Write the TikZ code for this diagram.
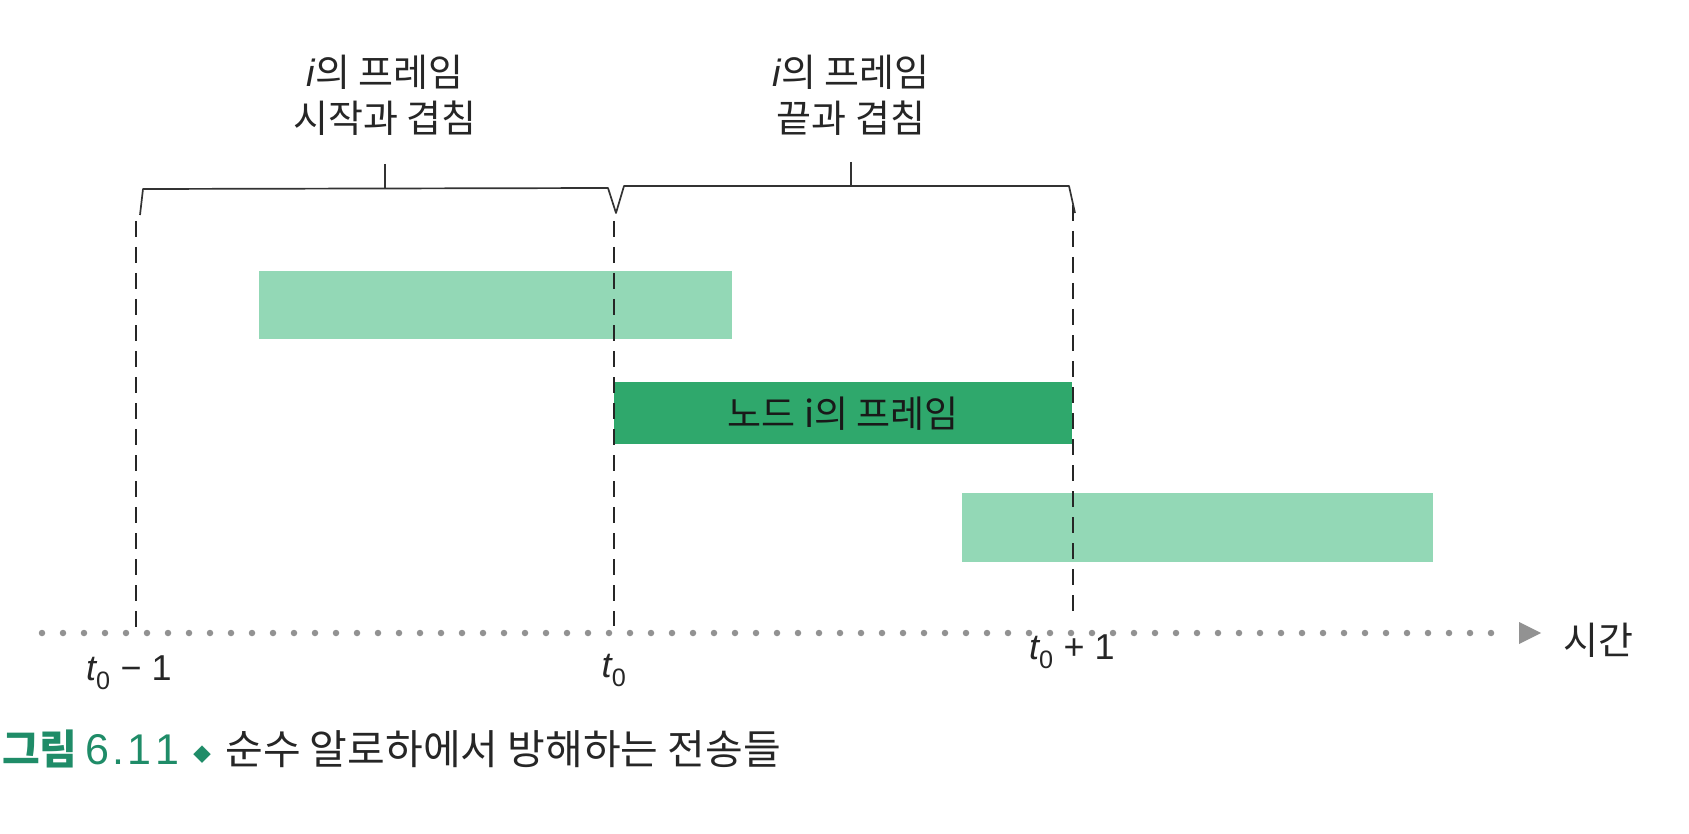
\documentclass[tikz,border=0pt]{standalone}
\usepackage{fontspec}
\setmainfont{Noto Sans CJK KR}
\newfontfamily\lat{Liberation Sans}
\definecolor{mint}{HTML}{93D8B6}
\definecolor{darkgreen}{HTML}{2FA86C}
\definecolor{capgreen}{HTML}{1F8C68}
\definecolor{axisgray}{HTML}{929292}
\begin{document}
\begin{tikzpicture}[x=1pt,y=-1pt,
  lbl/.style={font=\fontsize{38}{46}\selectfont, text=black!85, inner sep=0pt, align=center},
  tlbl/.style={font=\lat\fontsize{36}{40}\selectfont, text=black!85, inner sep=0pt},
  brk/.style={line width=1.7pt, black!80, line join=round},
  vdash/.style={line width=2.4pt, black!85, dash pattern=on 16pt off 10pt},
  barbase/.style={draw=none, inner sep=0pt, anchor=north west},
  lightbar/.style={barbase, fill=mint},
  darkbar/.style={barbase, fill=darkgreen, font=\fontsize{37}{40}\selectfont, text=black!90},
  axisdots/.style={line width=6.5pt, axisgray, line cap=round, dash pattern=on 0pt off 21pt}]
\useasboundingbox (0,0) rectangle (1689,834);

% bars
\node[lightbar, minimum width=473pt, minimum height=68pt] (b1) at (259,271) {};
\node[darkbar, minimum width=458pt, minimum height=62pt] (b2) at (614,382) {노드 i의 프레임};
\node[lightbar, minimum width=471pt, minimum height=69pt] (b3) at (962,493) {};

% dashed time markers
\coordinate (l0) at (136,221); \coordinate (l1) at (136,630);
\coordinate (m0) at (614,221); \coordinate (m1) at (614,626);
\coordinate (r0) at (1073,205); \coordinate (r1) at (1073,614);
\draw[vdash] (l0) -- (l1);
\draw[vdash] (m0) -- (m1);
\draw[vdash] (r0) -- (r1);

% brackets
\coordinate (a0) at (140,215); \coordinate (a1) at (143,189);
\coordinate (a2) at (608,188); \coordinate (n) at (616,213);
\coordinate (a3) at (624,186); \coordinate (a4) at (1069,186);
\coordinate (a5) at (1075,213);
\draw[brk] (a0) -- (a1) -- (a2) -- (n) -- (a3) -- (a4) -- (a5);
\coordinate (t1a) at (385,164); \coordinate (t1b) at (385,188.5);
\coordinate (t2a) at (851,162); \coordinate (t2b) at (851,186);
\draw[brk] (t1a) -- (t1b);
\draw[brk] (t2a) -- (t2b);

% headings
\node[lbl] (h1) at (385,95) {{\lat\itshape i}의 프레임\\시작과 겹침};
\node[lbl] (h2) at (851,95) {{\lat\itshape i}의 프레임\\끝과 겹침};

% time axis
\coordinate (ax0) at (42,633); \coordinate (ax1) at (1505,633);
\draw[axisdots] (ax0) -- (ax1);
\coordinate (ar0) at (1519,622); \coordinate (ar1) at (1541,633); \coordinate (ar2) at (1519,644);
\fill[axisgray] (ar0) -- (ar1) -- (ar2) -- cycle;
\node[lbl, anchor=west] (time) at (1563,640) {시간};

% time labels
\node[tlbl] (tm1) at (129,673) {{\itshape t}\textsubscript{0} − 1};
\node[tlbl] (t0) at (614,670) {{\itshape t}\textsubscript{0}};
\node[tlbl] (tp1) at (1072,652) {{\itshape t}\textsubscript{0} + 1};

% caption
\node[anchor=west, inner sep=0pt, font=\fontsize{41}{46}\selectfont, text=black!85] (cap) at (2,749)
  {\textcolor{capgreen}{\bfseries 그림}\hspace{8pt}\textcolor{capgreen}{\lat\fontsize{43}{46}\selectfont 6\kern3pt.\kern3pt1\kern4pt1}\hspace{14pt}\textcolor{capgreen}{\raisebox{3pt}{\fontsize{18}{18}\selectfont ◆}}\hspace{14pt}순수 알로하에서 방해하는 전송들};
\end{tikzpicture}
\end{document}
